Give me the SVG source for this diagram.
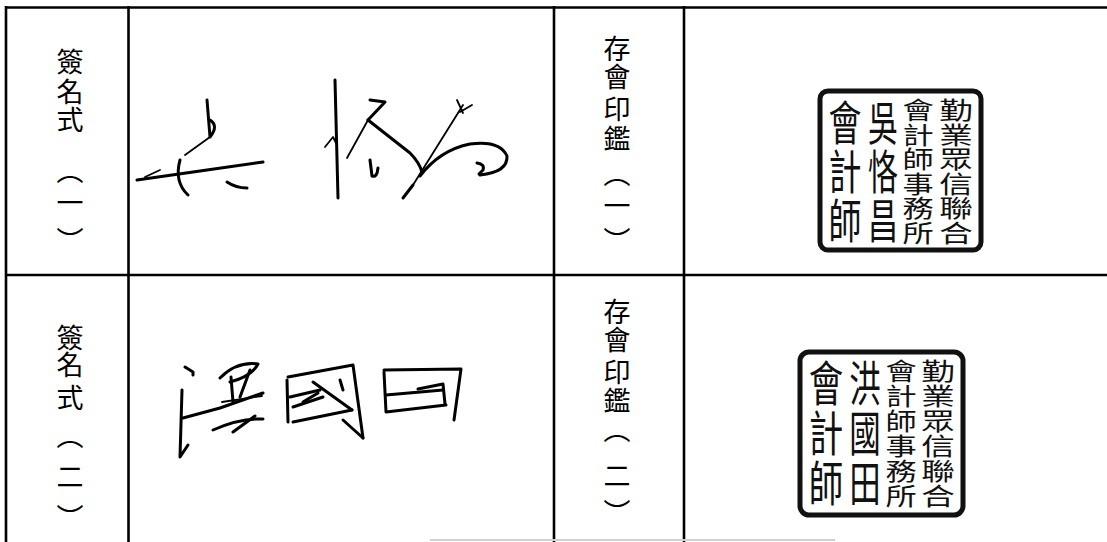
<svg xmlns="http://www.w3.org/2000/svg" width="1107" height="542" viewBox="0 0 1107 542">
<style>
.ln{stroke:#000;stroke-width:2.6;fill:none}
.lbl{font-family:"Noto Sans CJK TC","Noto Sans CJK SC",sans-serif;font-size:27px;font-weight:400;text-anchor:middle;fill:#000}
.sig{fill:none;stroke:#000;stroke-width:3;stroke-linecap:round;stroke-linejoin:round}
.thin{stroke-width:1.8}
.frame{fill:none;stroke:#111;stroke-width:5}
.st{font-family:"Noto Sans CJK TC","Noto Sans CJK SC",sans-serif;text-anchor:middle;fill:#111}
</style>
<rect width="1107" height="542" fill="#fff"/>
<g id="grid">
<line class="ln" x1="5" y1="7.5" x2="1107" y2="7.5"/>
<line class="ln" x1="5" y1="275" x2="1107" y2="275"/>
<line class="ln" x1="6" y1="6" x2="6" y2="542"/>
<line class="ln" x1="128.5" y1="6" x2="128.5" y2="542"/>
<line class="ln" x1="554" y1="6" x2="554" y2="542"/>
<line class="ln" x1="684" y1="6" x2="684" y2="542"/>
<line x1="430" y1="540" x2="835" y2="540" stroke="#d0d0d0" stroke-width="2"/>
</g>
<g id="label-sig1">
<text class="lbl"><tspan x="70" y="72">簽</tspan><tspan x="70" y="102">名</tspan><tspan x="70" y="130">式</tspan><tspan x="70" y="181">︵</tspan><tspan x="70" y="213">一</tspan><tspan x="70" y="251">︶</tspan></text>
</g>
<g id="label-seal1">
<text class="lbl"><tspan x="617" y="59">存</tspan><tspan x="617" y="87">會</tspan><tspan x="617" y="119">印</tspan><tspan x="617" y="149">鑑</tspan><tspan x="617" y="184">︵</tspan><tspan x="617" y="216">一</tspan><tspan x="617" y="251">︶</tspan></text>
</g>
<g id="label-sig2">
<text class="lbl"><tspan x="70" y="348">簽</tspan><tspan x="70" y="375">名</tspan><tspan x="70" y="408">式</tspan><tspan x="70" y="446">︵</tspan><tspan x="70" y="487">二</tspan><tspan x="70" y="528">︶</tspan></text>
</g>
<g id="label-seal2">
<text class="lbl"><tspan x="617" y="322">存</tspan><tspan x="617" y="350">會</tspan><tspan x="617" y="382">印</tspan><tspan x="617" y="411">鑑</tspan><tspan x="617" y="440">︵</tspan><tspan x="617" y="486">二</tspan><tspan x="617" y="523">︶</tspan></text>
</g>
<g id="signature1" class="sig">
<path d="M137,180 L200,171 L263,162"/>
<path class="thin" d="M145,177 L160,170"/>
<path d="M180,160 Q174,182 188,195"/>
<path d="M207,100 L210,137 M210,120 Q219,126 210,137"/>
<path class="thin" d="M210,137 L185,155"/>
<path d="M227,182 Q236,188 247,188"/>
<path d="M335,80 L338,198"/>
<path class="thin" d="M325,147 L333,137 L336,143"/>
<path d="M370,100 L385,102 L368,120"/>
<path class="thin" d="M368,120 L347,158"/>
<path d="M368,120 L410,153 Q419,162 422,172"/>
<path d="M370,160 L372,176 Q377,178 378,168"/>
<path class="thin" d="M463,105 L413,185"/>
<path d="M413,185 L403,198"/>
<path class="thin" d="M457,100 L463,113 M460,112 L472,105"/>
<path d="M420,176 Q440,150 470,144 Q500,140 507,156 Q508,172 480,175"/>
<path d="M477,163 Q485,164 483,170 L479,174"/>
</g>
<g id="signature2" class="sig">
<path d="M185,367 L193,372 L193,375"/>
<path d="M182,390 L180,457 L188,445"/>
<path d="M183,418 L220,408 L263,393"/>
<path d="M220,378 Q237,361 258,364 Q252,376 230,382"/>
<path d="M231,377 L233,402"/>
<path d="M250,370 L240,397"/>
<path class="thin" d="M222,402 L262,396"/>
<path d="M213,430 Q240,418 263,419"/>
<path d="M255,416 L233,432"/>
<path d="M288,377 L353,365 L363,438"/>
<path d="M287,380 L288,422"/>
<path d="M293,422 L352,410"/>
<path d="M290,397 L320,390"/>
<path d="M293,407 L323,397"/>
<path d="M303,402 L318,393"/>
<path d="M313,382 L352,410"/>
<path d="M340,380 L343,390"/>
<path d="M343,420 L363,438"/>
<path d="M384,370 L461,369 L454,420"/>
<path d="M384,372 L386,412 L446,405"/>
<path d="M386,395 L443,390"/>
<path d="M418,389 L443,384 L445,404"/>
</g>
<g id="seal1">
<rect class="frame" x="820" y="91" width="161" height="159" rx="8"/>
<g transform="translate(956,98) scale(1.4,1)">
<text class="st" font-size="24"><tspan x="0" y="21.4">勤</tspan><tspan x="0" y="45.9">業</tspan><tspan x="0" y="70.4">眾</tspan><tspan x="0" y="94.9">信</tspan><tspan x="0" y="119.4">聯</tspan><tspan x="0" y="143.9">合</tspan></text>
</g>
<g transform="translate(918,98) scale(1.3,1)">
<text class="st" font-size="24"><tspan x="0" y="21.4">會</tspan><tspan x="0" y="45.9">計</tspan><tspan x="0" y="70.4">師</tspan><tspan x="0" y="94.9">事</tspan><tspan x="0" y="119.4">務</tspan><tspan x="0" y="143.9">所</tspan></text>
</g>
<g transform="translate(883,98) scale(1,1.55)">
<text class="st" font-size="30"><tspan x="0" y="27.2">吳</tspan><tspan x="0" y="58.8">恪</tspan><tspan x="0" y="90.4">昌</tspan></text>
</g>
<g transform="translate(845,98) scale(1.1,1.55)">
<text class="st" font-size="30"><tspan x="0" y="27.2">會</tspan><tspan x="0" y="58.8">計</tspan><tspan x="0" y="90.4">師</tspan></text>
</g>
</g>
<g id="seal2">
<rect class="frame" x="800" y="352" width="163" height="163" rx="9"/>
<g transform="translate(938,358) scale(1.4,1)">
<text class="st" font-size="24"><tspan x="0" y="21.6">勤</tspan><tspan x="0" y="46.6">業</tspan><tspan x="0" y="71.6">眾</tspan><tspan x="0" y="96.6">信</tspan><tspan x="0" y="121.6">聯</tspan><tspan x="0" y="146.6">合</tspan></text>
</g>
<g transform="translate(901,358) scale(1.3,1)">
<text class="st" font-size="24"><tspan x="0" y="21.6">會</tspan><tspan x="0" y="46.6">計</tspan><tspan x="0" y="71.6">師</tspan><tspan x="0" y="96.6">事</tspan><tspan x="0" y="121.6">務</tspan><tspan x="0" y="146.6">所</tspan></text>
</g>
<g transform="translate(865,358) scale(1.05,1.6)">
<text class="st" font-size="30"><tspan x="0" y="27">洪</tspan><tspan x="0" y="58.3">國</tspan><tspan x="0" y="89.5">田</tspan></text>
</g>
<g transform="translate(826,358) scale(1.15,1.6)">
<text class="st" font-size="30"><tspan x="0" y="27">會</tspan><tspan x="0" y="58.3">計</tspan><tspan x="0" y="89.5">師</tspan></text>
</g>
</g>
</svg>
